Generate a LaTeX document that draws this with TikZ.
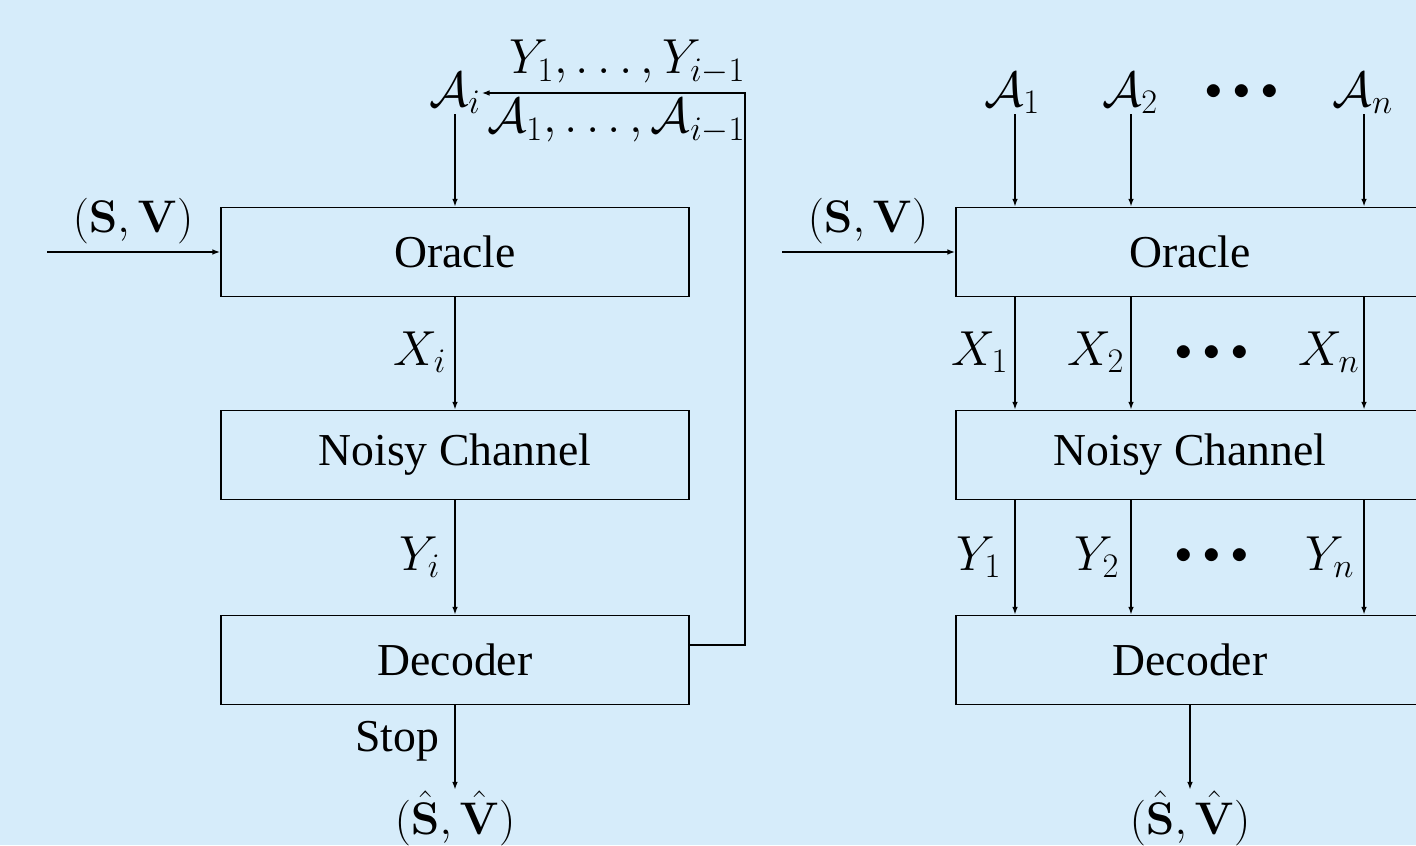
\RequirePackage{fix-cm}
\documentclass[tikz,border=0pt]{standalone}
\usepackage[no-math]{fontspec}
\setmainfont{Liberation Serif}
\usetikzlibrary{arrows.meta}
\definecolor{bg}{RGB}{214,236,250}
\newcommand{\mydots}{\mathord{\bullet}\mkern6mu\mathord{\bullet}\mkern6mu\mathord{\bullet}}
\begin{document}
\begin{tikzpicture}[x=0.02cm,y=-0.02cm,
  every node/.style={font=\fontsize{26}{31}\selectfont, inner sep=0pt},
  mth/.style={font=\fontsize{28}{33}\selectfont},
  dts/.style={font=\fontsize{19}{22}\selectfont},
  blk/.style={draw, line width=0.9pt, minimum width=9.36cm, minimum height=1.78cm},
  arr/.style={-{Latex[length=4.5pt,width=3.2pt]}},
  line width=0.9pt]
\useasboundingbox (0,0) rectangle (1416,845);
\fill[bg] (0,0) rectangle (1416,845);
\clip (0,0) rectangle (1416,845);
% ---------- left diagram ----------
\node[blk] (O1) at (455,252) {Oracle};
\node[blk] (N1) at (455,455) {Noisy Channel};
\node[blk] (D1) at (455,660) {Decoder};
\node[mth] (Ai) at (455,93) {$\mathcal{A}_i$};
\node[mth,anchor=east] (Yprev) at (746,62) {$Y_1,\ldots,Y_{i-1}$};
\node[mth,anchor=east] (Aprev) at (746,121) {$\mathcal{A}_1,\ldots,\mathcal{A}_{i-1}$};
\node (SV1) at (133,221) {$(\mathbf{S},\mathbf{V})$};
\coordinate (in1) at (47,252);
\node[mth] (Xi) at (420,352) {$X_i$};
\node[mth] (Yi) at (420,557) {$Y_i$};
\node (Stop) at (397,741) {Stop};
\node (Sh1) at (455,818) {$(\hat{\mathbf{S}},\hat{\mathbf{V}})$};
\coordinate (fb) at (745,645);
\draw[arr] (in1) -- (O1.west);
\draw[arr] (Ai.south) -- (O1.north);
\draw[arr] (O1.south) -- (N1.north);
\draw[arr] (N1.south) -- (D1.north);
\draw[arr] (D1.south) -- (Sh1.north);
\draw[arr] (D1.east |- fb) -- (fb) -- (fb |- Ai.east) -- (Ai.east);
% ---------- right diagram ----------
\node[blk] (O2) at (1190,252) {Oracle};
\node[blk] (N2) at (1190,455) {Noisy Channel};
\node[blk] (D2) at (1190,660) {Decoder};
\coordinate (c1) at (1015,0);
\coordinate (c2) at (1131,0);
\coordinate (cn) at (1364,0);
\node[mth] (A1) at (1012,93) {$\mathcal{A}_1$};
\node[mth] (A2) at (1130,93) {$\mathcal{A}_2$};
\node[dts] (Ad) at (1242,92) {$\mydots$};
\node[mth] (An) at (1363,93) {$\mathcal{A}_n$};
\node (SV2) at (868,221) {$(\mathbf{S},\mathbf{V})$};
\coordinate (in2) at (782,252);
\node[mth] (X1) at (980,352) {$X_1$};
\node[mth] (X2) at (1096,352) {$X_2$};
\node[dts] (Xd) at (1212,353) {$\mydots$};
\node[mth] (Xn) at (1329,352) {$X_n$};
\node[mth] (Y1) at (979,557) {$Y_1$};
\node[mth] (Y2) at (1097,557) {$Y_2$};
\node[dts] (Yd) at (1212,556) {$\mydots$};
\node[mth] (Yn) at (1330,557) {$Y_n$};
\node (Sh2) at (1190,818) {$(\hat{\mathbf{S}},\hat{\mathbf{V}})$};
\draw[arr] (in2) -- (O2.west);
\foreach \a/\c in {A1/c1, A2/c2, An/cn} {
  \draw[arr] (\a.south -| \c) -- (O2.north -| \c);
}
\foreach \c in {c1, c2, cn} {
  \draw[arr] (O2.south -| \c) -- (N2.north -| \c);
  \draw[arr] (N2.south -| \c) -- (D2.north -| \c);
}
\draw[arr] (D2.south) -- (Sh2.north);
\end{tikzpicture}
\end{document}
